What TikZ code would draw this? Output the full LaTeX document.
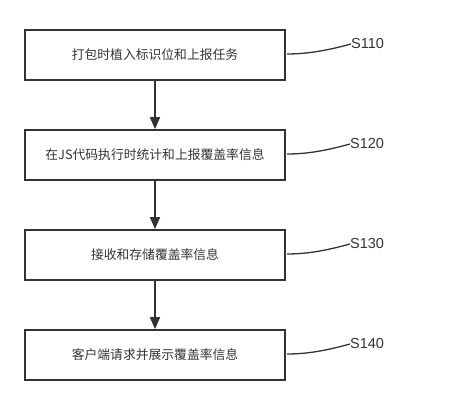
\documentclass[tikz,border=0pt]{standalone}
\usepackage{fontspec}
\setmainfont{Liberation Sans}
\newfontfamily\cjk{Noto Sans CJK SC}
\usetikzlibrary{arrows.meta}
\definecolor{ink}{HTML}{333333}
\begin{document}
\begin{tikzpicture}[x=1pt,y=-1pt,
  stepbox/.style={draw=ink,line width=1.8pt,minimum width=260pt,minimum height=50pt,inner sep=0pt,font=\cjk\fontsize{12.8}{14}\selectfont,text=ink},
  flow/.style={draw=ink,line width=1.8pt,-{Triangle[length=12pt,width=10pt]}},
  tag/.style={font=\fontsize{14.5}{16}\selectfont,text=ink,inner sep=0pt,anchor=west},
  lead/.style={draw=ink,line width=1.3pt}]
\useasboundingbox (0,0) rectangle (453,405);
\node[stepbox] (b1) at (155,55) {\raisebox{-1.5pt}{打包时植入标识位和上报任务}};
\node[stepbox] (b2) at (155,155) {\raisebox{-1.5pt}{在JS代码执行时统计和上报覆盖率信息}};
\node[stepbox] (b3) at (155,255) {\raisebox{-1.5pt}{接收和存储覆盖率信息}};
\node[stepbox] (b4) at (155,355) {\raisebox{-1.5pt}{客户端请求并展示覆盖率信息}};
\node[tag] (t1) at (351,44) {S110};
\node[tag] (t2) at (350,144) {S120};
\node[tag] (t3) at (350,244) {S130};
\node[tag] (t4) at (350,344) {S140};
\draw[flow] (b1) -- (b2);
\draw[flow] (b2) -- (b3);
\draw[flow] (b3) -- (b4);
\foreach \i in {1,2,3,4}{
  \draw[lead] (b\i.east) ++(1,-1) .. controls +(22,0) and +(-22,6) .. (t\i.west);
}
\end{tikzpicture}
\end{document}
